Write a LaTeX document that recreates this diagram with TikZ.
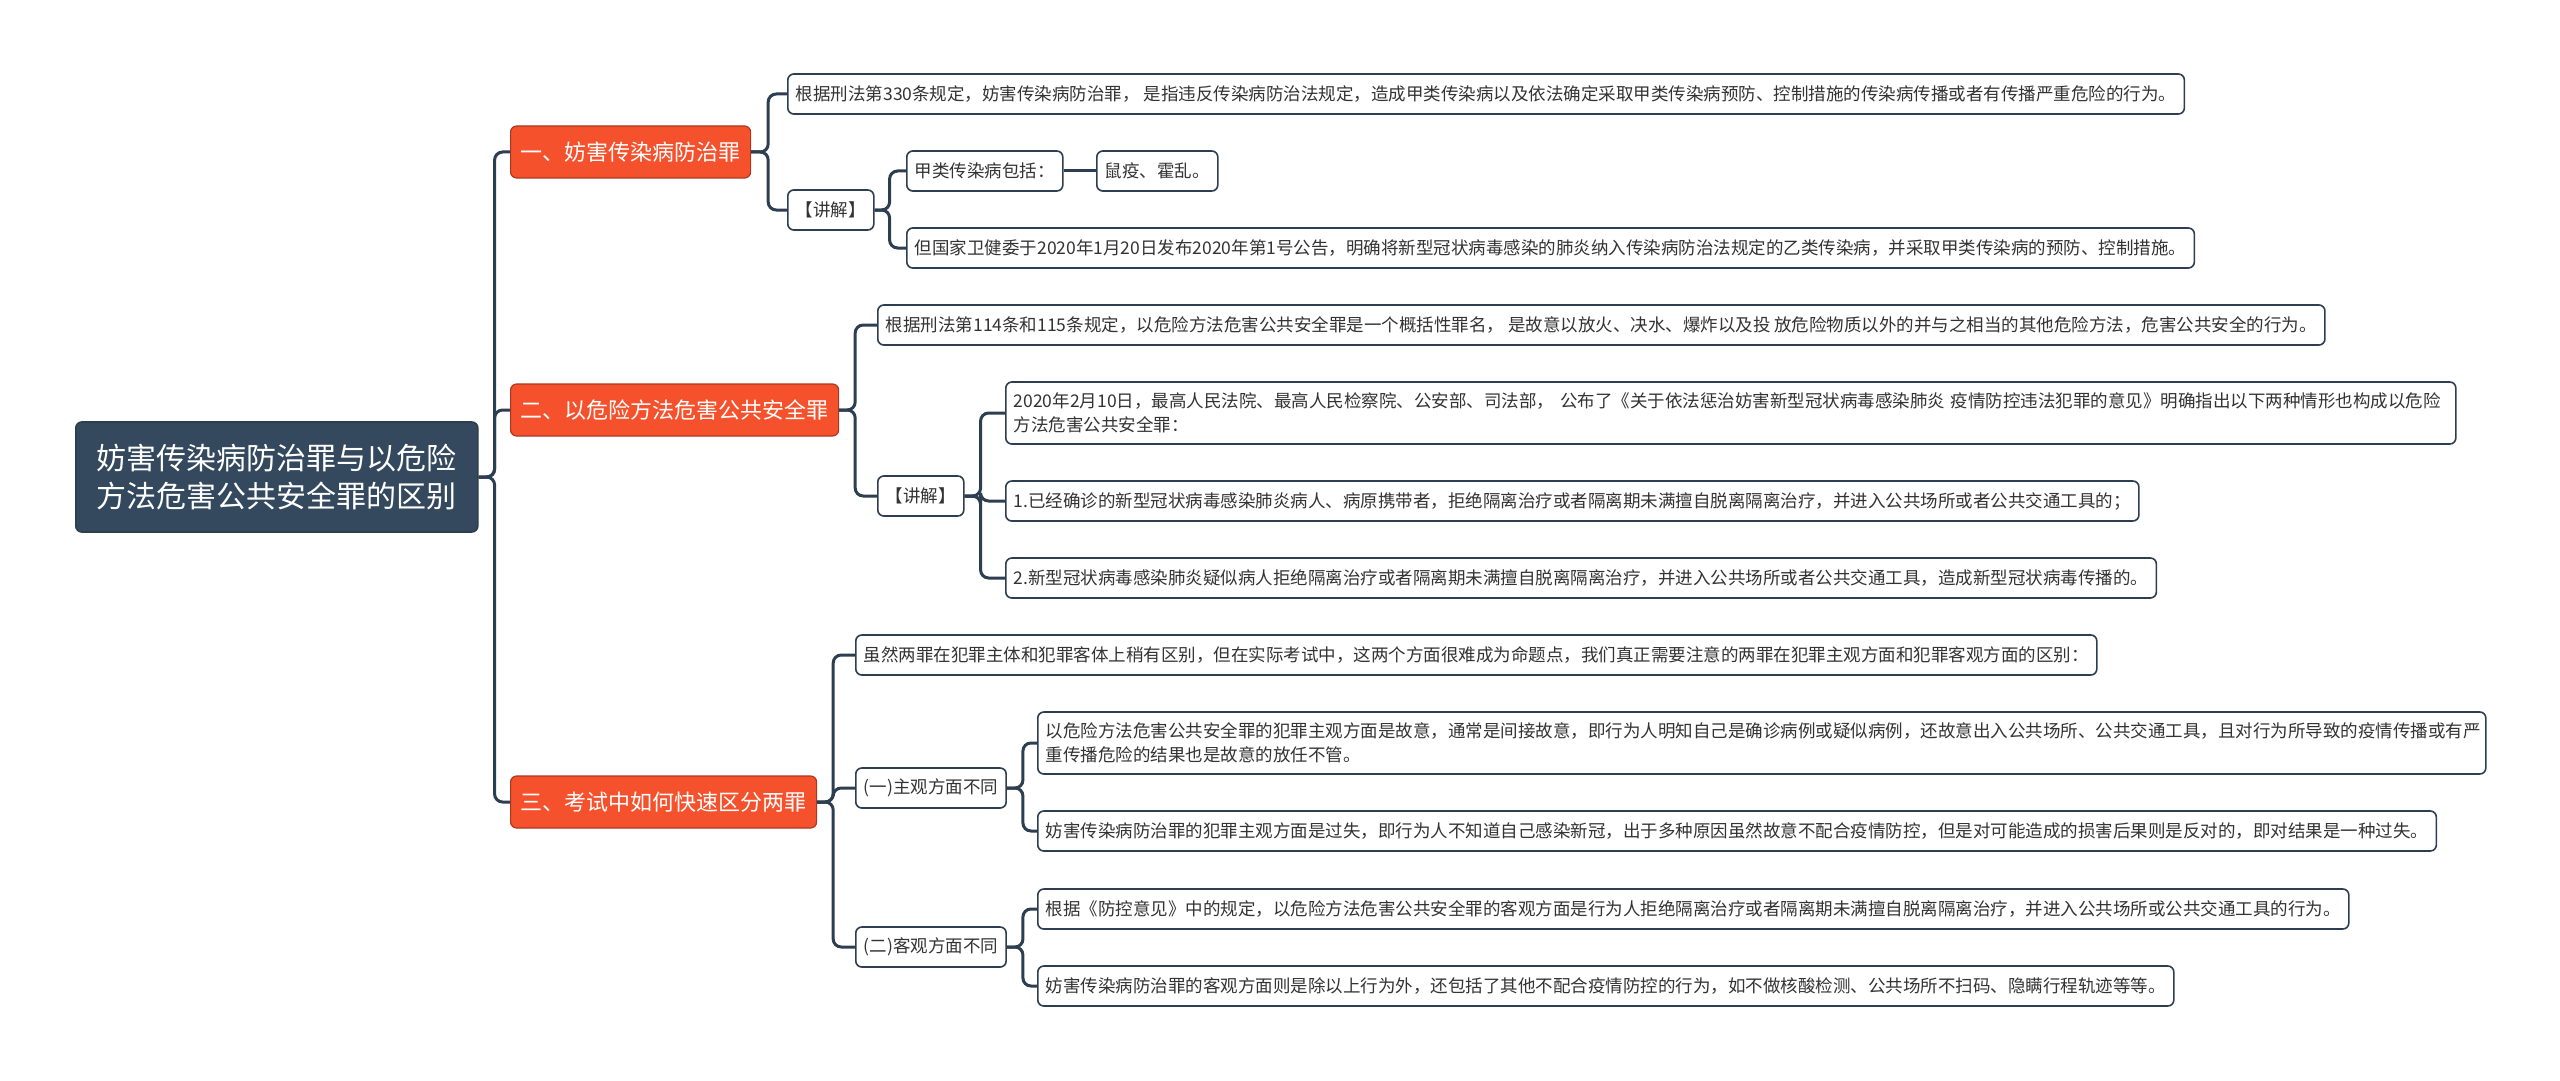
\documentclass[tikz,border=0pt]{standalone}
\usepackage{fontspec}
\setmainfont{Noto Sans CJK SC}
\usepackage{tikz}
\usetikzlibrary{positioning}
\definecolor{slate}{HTML}{34495E}
\definecolor{linie}{HTML}{2C3E50}
\definecolor{rot}{HTML}{F4512C}
\definecolor{schrift}{HTML}{333333}

\begin{document}
\begin{tikzpicture}[x=0.5pt, y=-0.5pt,
  wurzel/.style={draw=linie, fill=slate, rounded corners=3pt, text=white, line width=0.8pt,
    font=\fontsize{15}{19}\selectfont, align=center, minimum width=201pt, minimum height=55pt, anchor=west},
  zweig/.style={draw=rot!70!black, fill=rot, rounded corners=3pt, text=white, line width=0.6pt,
    font=\fontsize{11}{13}\selectfont, inner xsep=5pt, minimum height=26pt, anchor=west},
  blatt/.style={draw=linie, fill=white, rounded corners=3pt, text=schrift, line width=0.8pt,
    font=\fontsize{8.75}{12}\selectfont, align=left, inner xsep=4pt, minimum height=20pt, anchor=west},
  link/.style={draw=linie, line width=1.5pt, rounded corners=4pt}]

  \useasboundingbox (0,0) rectangle (2560,1081);

  % Wurzel
  \node[wurzel] (root) at (75,477) {妨害传染病防治罪与以危险\\方法危害公共安全罪的区别};

  % Hauptzweige
  \node[zweig] (b1) at (510,152) {一、妨害传染病防治罪};
  \node[zweig] (b2) at (510,410) {二、以危险方法危害公共安全罪};
  \node[zweig] (b3) at (510,802) {三、考试中如何快速区分两罪};

  % Zweig 1
  \node[blatt] (b1a) at (787,94) {根据刑法第330条规定，妨害传染病防治罪， 是指违反传染病防治法规定，造成甲类传染病以及依法确定采取甲类传染病预防、控制措施的传染病传播或者有传播严重危险的行为。};
  \node[blatt] (b1k) at (787,210) {【讲解】};
  \node[blatt] (b1k1) at (906,171) {甲类传染病包括：};
  \node[blatt] (b1k1a) at (1096,171) {鼠疫、霍乱。};
  \node[blatt] (b1k2) at (906,248) {但国家卫健委于2020年1月20日发布2020年第1号公告，明确将新型冠状病毒感染的肺炎纳入传染病防治法规定的乙类传染病，并采取甲类传染病的预防、控制措施。};

  % Zweig 2
  \node[blatt] (b2a) at (877,325) {根据刑法第114条和115条规定，以危险方法危害公共安全罪是一个概括性罪名， 是故意以放火、决水、爆炸以及投 放危险物质以外的并与之相当的其他危险方法，危害公共安全的行为。};
  \node[blatt] (b2k) at (877,496) {【讲解】};
  \node[blatt, text width=717pt, minimum height=31pt] (b2k1) at (1005,413) {2020年2月10日，最高人民法院、最高人民检察院、公安部、司法部， 公布了《关于依法惩治妨害新型冠状病毒感染肺炎 疫情防控违法犯罪的意见》明确指出以下两种情形也构成以危险\\方法危害公共安全罪：};
  \node[blatt] (b2k2) at (1005,501) {1.已经确诊的新型冠状病毒感染肺炎病人、病原携带者，拒绝隔离治疗或者隔离期未满擅自脱离隔离治疗，并进入公共场所或者公共交通工具的；};
  \node[blatt] (b2k3) at (1005,578) {2.新型冠状病毒感染肺炎疑似病人拒绝隔离治疗或者隔离期未满擅自脱离隔离治疗，并进入公共场所或者公共交通工具，造成新型冠状病毒传播的。};

  % Zweig 3
  \node[blatt] (b3a) at (855,655) {虽然两罪在犯罪主体和犯罪客体上稍有区别，但在实际考试中，这两个方面很难成为命题点，我们真正需要注意的两罪在犯罪主观方面和犯罪客观方面的区别：};
  \node[blatt] (b3z) at (855,788) {(一)主观方面不同};
  \node[blatt, text width=716pt, minimum height=31pt] (b3z1) at (1037,743) {以危险方法危害公共安全罪的犯罪主观方面是故意，通常是间接故意，即行为人明知自己是确诊病例或疑似病例，还故意出入公共场所、公共交通工具，且对行为所导致的疫情传播或有严\\重传播危险的结果也是故意的放任不管。};
  \node[blatt] (b3z2) at (1037,831) {妨害传染病防治罪的犯罪主观方面是过失，即行为人不知道自己感染新冠，出于多种原因虽然故意不配合疫情防控，但是对可能造成的损害后果则是反对的，即对结果是一种过失。};
  \node[blatt] (b3o) at (855,947) {(二)客观方面不同};
  \node[blatt] (b3o1) at (1037,909) {根据《防控意见》中的规定，以危险方法危害公共安全罪的客观方面是行为人拒绝隔离治疗或者隔离期未满擅自脱离隔离治疗，并进入公共场所或公共交通工具的行为。};
  \node[blatt] (b3o2) at (1037,986) {妨害传染病防治罪的客观方面则是除以上行为外，还包括了其他不配合疫情防控的行为，如不做核酸检测、公共场所不扫码、隐瞒行程轨迹等等。};

  % Verbindungen
  \foreach \k in {b1,b2,b3}
    \draw[link] (root.east) -- ++(16,0) |- (\k.west);
  \foreach \k in {b1a,b1k}
    \draw[link] (b1.east) -- ++(17,0) |- (\k.west);
  \foreach \k in {b1k1,b1k2}
    \draw[link] (b1k.east) -- ++(15,0) |- (\k.west);
  \draw[link] (b1k1.east) -- (b1k1a.west);
  \foreach \k in {b2a,b2k}
    \draw[link] (b2.east) -- ++(16,0) |- (\k.west);
  \foreach \k in {b2k1,b2k2,b2k3}
    \draw[link] (b2k.east) -- ++(16,0) |- (\k.west);
  \foreach \k in {b3a,b3z,b3o}
    \draw[link] (b3.east) -- ++(16,0) |- (\k.west);
  \foreach \k in {b3z1,b3z2}
    \draw[link] (b3z.east) -- ++(16,0) |- (\k.west);
  \foreach \k in {b3o1,b3o2}
    \draw[link] (b3o.east) -- ++(16,0) |- (\k.west);

\end{tikzpicture}
\end{document}
